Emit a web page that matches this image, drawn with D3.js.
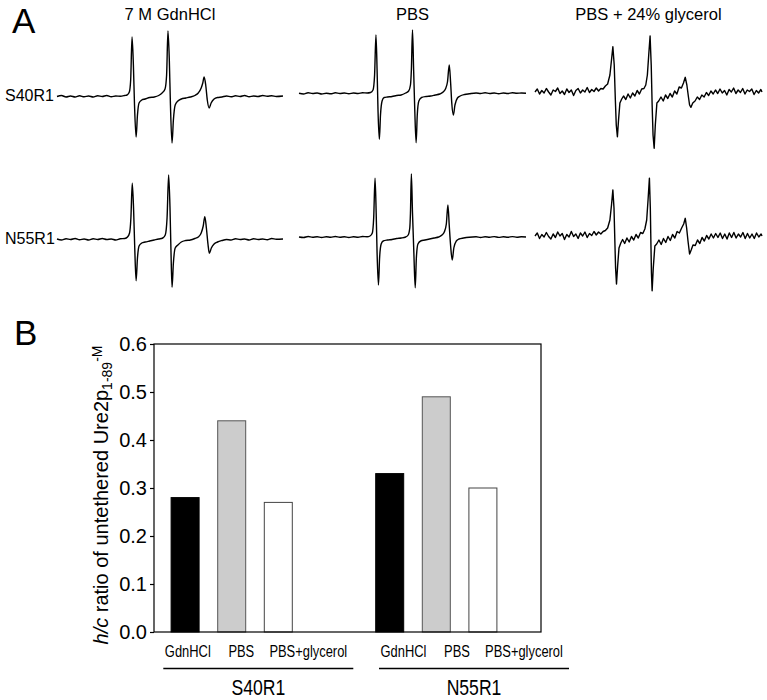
<!DOCTYPE html>
<html>
<head>
<meta charset="utf-8">
<script src="https://cdn.jsdelivr.net/npm/d3@7"></script>
<style>
  body { margin: 0; background: #fff; }
  svg { font-family: "Liberation Sans", Arial, sans-serif; }
</style>
</head>
<body>
<svg width="767" height="700"></svg>
<script>
// ---- panel A: EPR spectra, [field (G, 0-100 sweep), signal (a.u.)] ----
const rowNames = ["S40R1", "N55R1"];
const solventNames = ["7 M GdnHCl", "PBS", "PBS + 24% glycerol"];

const s40Gdn = [[0,-0.015],[2,-0.005],[4,-0.02],[6,-0.01],[8,-0.02],[10,-0.008],[12,-0.018],[14,-0.01],[16,-0.02],[18,-0.008],[20,-0.015],[22,-0.005],[24,-0.018],[26,-0.01],[28,-0.012],[30,-0.005],[31,0.0],[32,0.03],[32.6,0.15],[33.2,0.58],[33.8,0.3],[34.3,-0.1],[35.0,-0.42],[35.6,-0.2],[36.3,-0.08],[37.5,-0.05],[39,-0.04],[41,-0.025],[43,-0.02],[45,-0.005],[46.5,0.02],[47.8,0.06],[48.5,0.2],[49.1,0.64],[49.7,0.35],[50.2,-0.1],[50.9,-0.48],[51.5,-0.25],[52.3,-0.1],[53.5,-0.06],[55,-0.04],[57,-0.03],[59,-0.02],[61,-0.005],[62.5,0.02],[63.8,0.07],[64.5,0.12],[65.1,0.18],[65.8,0.1],[66.5,-0.05],[67.3,-0.13],[68.2,-0.08],[69.5,-0.04],[71,-0.025],[73,-0.02],[75,-0.01],[77,-0.018],[79,-0.008],[81,-0.015],[83,-0.005],[85,-0.018],[87,-0.01],[89,-0.015],[91,-0.005],[93,-0.012],[95,-0.008],[97,-0.015],[100,-0.01]];

const s40Pbs = [[0,0.017],[2,0.01],[4,0.022],[6,0.015],[8,0.02],[10,0.01],[12,0.018],[14,0.012],[16,0.022],[18,0.015],[20,0.02],[22,0.012],[24,0.02],[26,0.015],[28,0.022],[30,0.02],[31.5,0.025],[32.6,0.05],[33.3,0.2],[33.9,0.60],[34.4,0.25],[34.8,-0.15],[35.4,-0.443],[35.9,-0.2],[36.6,-0.06],[37.5,-0.025],[39,-0.02],[41,-0.015],[43,-0.005],[45,0.0],[47,0.02],[48.3,0.04],[49.1,0.1],[49.5,0.25],[50.0,0.65],[50.5,0.25],[51.0,-0.15],[51.6,-0.477],[52.1,-0.2],[52.8,-0.06],[54,-0.025],[56,-0.015],[58,-0.01],[60,0.0],[62,0.01],[63.5,0.03],[64.5,0.06],[65.4,0.13],[66.2,0.30],[66.8,0.12],[67.3,-0.08],[68.0,-0.20],[68.7,-0.1],[69.8,-0.03],[71,-0.01],[73,0.005],[75,0.012],[78,0.02],[80,0.015],[82,0.022],[84,0.015],[86,0.02],[88,0.012],[90,0.02],[92,0.015],[94,0.022],[96,0.018],[98,0.02],[100,0.018]];

const s40Gly = [[0,0.03],[1,0.06],[2,0.01],[3,0.045],[4,0.02],[5,0.065],[6,0.03],[7,0.0],[8,0.05],[9,0.035],[10,0.07],[11,0.015],[12,0.04],[13,0.005],[14,0.06],[15,0.025],[16,0.05],[17,-0.005],[18,0.045],[19,0.065],[20,0.02],[21,0.05],[22,0.03],[23,0.075],[24,0.025],[25,0.055],[26,0.035],[27,0.07],[28,0.04],[29,0.065],[30,0.06],[31,0.09],[32,0.11],[33,0.2],[33.7,0.35],[34.3,0.483],[34.9,0.3],[35.4,-0.05],[35.8,-0.3],[36.3,-0.417],[36.8,-0.25],[37.4,-0.08],[38.2,-0.04],[39,-0.01],[40,-0.045],[41,0.01],[42,-0.03],[43,0.02],[44,-0.01],[45,0.045],[46,0.01],[47,0.06],[48,0.065],[48.8,0.1],[49.5,0.2],[50.1,0.4],[50.7,0.59],[51.2,0.3],[51.6,-0.1],[52.0,-0.4],[52.5,-0.533],[53.0,-0.3],[53.7,-0.08],[54.5,-0.06],[55.5,-0.02],[56.5,-0.06],[57.5,0.0],[58.5,-0.035],[59.5,0.015],[60.5,-0.02],[61.5,0.04],[62.5,0.01],[63.5,0.08],[64.5,0.07],[65.4,0.12],[66.2,0.177],[66.9,0.1],[67.6,-0.02],[68.1,-0.1],[68.7,-0.123],[69.5,-0.08],[70.5,-0.06],[71.5,-0.02],[72.5,-0.045],[73.5,0.0],[74.5,-0.02],[75.5,0.025],[76.5,-0.005],[77.5,0.04],[78.5,0.01],[79.5,0.05],[80.5,0.015],[81.5,0.06],[82.5,0.02],[83.5,0.045],[84.5,0.0],[85.5,0.055],[86.5,0.03],[87.5,0.07],[88.5,0.015],[89.5,0.05],[90.5,0.025],[91.5,0.065],[92.5,0.01],[93.5,0.05],[94.5,0.035],[95.5,0.06],[96.5,0.005],[97.5,0.045],[98.5,0.02],[99.5,0.055],[100,0.03]];

const n55Gdn = [[0,-0.01],[2,-0.02],[4,-0.008],[6,-0.015],[8,-0.005],[10,-0.018],[12,-0.01],[14,-0.02],[16,-0.008],[18,-0.015],[20,-0.005],[22,-0.015],[24,-0.01],[26,-0.02],[28,-0.008],[30,-0.005],[31.2,0.01],[32.1,0.05],[32.7,0.2],[33.3,0.547],[33.9,0.28],[34.4,-0.1],[35.0,-0.427],[35.6,-0.2],[36.3,-0.08],[37.5,-0.05],[39,-0.04],[41,-0.03],[43,-0.02],[45,-0.01],[46.8,0.0],[47.9,0.03],[48.7,0.2],[49.4,0.63],[50.0,0.3],[50.4,-0.1],[50.9,-0.493],[51.5,-0.25],[52.3,-0.1],[53.5,-0.07],[55,-0.04],[57,-0.025],[59,-0.02],[61,-0.005],[62.5,0.01],[63.8,0.05],[64.7,0.12],[65.4,0.213],[66.1,0.1],[66.8,-0.06],[67.4,-0.153],[68.3,-0.1],[69.5,-0.06],[71,-0.04],[73,-0.025],[75,-0.015],[77,-0.02],[79,-0.008],[81,-0.015],[83,-0.01],[85,-0.02],[87,-0.008],[89,-0.015],[91,-0.01],[93,-0.018],[95,-0.005],[97,-0.012],[100,-0.01]];

const n55Pbs = [[0,0.01],[2,0.005],[4,0.015],[6,0.008],[8,0.012],[10,0.005],[12,0.012],[14,0.008],[16,0.015],[18,0.008],[20,0.012],[22,0.005],[24,0.012],[26,0.008],[28,0.015],[30,0.012],[31.3,0.02],[32.3,0.05],[32.9,0.2],[33.5,0.597],[34.0,0.25],[34.4,-0.15],[35.0,-0.47],[35.5,-0.2],[36.2,-0.06],[37.1,-0.03],[39,-0.02],[41,-0.015],[43,-0.005],[45,0.0],[47,0.01],[48.1,0.03],[48.8,0.1],[49.1,0.25],[49.5,0.64],[50.0,0.25],[50.6,-0.15],[51.2,-0.497],[51.7,-0.2],[52.4,-0.06],[53.6,-0.03],[55.5,-0.02],[57.5,-0.01],[59.5,0.0],[61.5,0.01],[63,0.03],[64,0.06],[64.9,0.14],[65.6,0.33],[66.2,0.12],[66.8,-0.08],[67.5,-0.22],[68.2,-0.1],[69.3,-0.03],[70.5,-0.01],[72.5,0.0],[75,0.008],[78,0.012],[80,0.005],[82,0.012],[84,0.008],[86,0.014],[88,0.006],[90,0.012],[92,0.008],[94,0.014],[96,0.008],[98,0.012],[100,0.01]];

const n55Gly = [[0,0.02],[1,0.05],[2,-0.005],[3,0.035],[4,0.01],[5,0.055],[6,0.015],[7,-0.01],[8,0.04],[9,0.005],[10,0.06],[11,0.02],[12,0.045],[13,-0.015],[14,0.035],[15,0.01],[16,0.065],[17,0.015],[18,0.04],[19,-0.005],[20,0.05],[21,0.02],[22,0.06],[23,0.005],[24,0.045],[25,0.025],[26,0.065],[27,0.03],[28,0.06],[29,0.04],[30,0.065],[31,0.075],[32,0.1],[33,0.18],[33.7,0.33],[34.3,0.48],[34.8,0.3],[35.2,-0.05],[35.5,-0.3],[35.9,-0.46],[36.4,-0.28],[37.0,-0.1],[37.8,-0.05],[38.6,-0.015],[39.5,-0.055],[40.5,0.0],[41.5,-0.04],[42.5,0.015],[43.5,-0.02],[44.5,0.035],[45.5,0.0],[46.5,0.055],[47.5,0.045],[48.4,0.09],[49.2,0.18],[49.8,0.38],[50.4,0.597],[50.8,0.3],[51.1,-0.1],[51.3,-0.35],[51.6,-0.527],[52.1,-0.3],[52.8,-0.08],[53.6,-0.06],[54.6,-0.02],[55.6,-0.065],[56.6,-0.005],[57.6,-0.045],[58.6,0.015],[59.6,-0.025],[60.6,0.035],[61.6,0.0],[62.6,0.065],[63.6,0.05],[64.6,0.1],[65.5,0.14],[66.2,0.197],[66.8,0.1],[67.4,-0.03],[68.1,-0.16],[68.8,-0.12],[69.6,-0.07],[70.6,-0.075],[71.6,-0.02],[72.6,-0.055],[73.6,0.005],[74.6,-0.03],[75.6,0.025],[76.6,-0.01],[77.6,0.04],[78.6,0.0],[79.6,0.045],[80.6,0.005],[81.6,0.05],[82.6,-0.005],[83.6,0.04],[84.6,-0.01],[85.6,0.05],[86.6,0.005],[87.6,0.055],[88.6,0.0],[89.6,0.04],[90.6,0.01],[91.6,0.055],[92.6,-0.005],[93.6,0.045],[94.6,0.0],[95.6,0.04],[96.6,-0.005],[97.6,0.05],[98.6,0.01],[99.6,0.04],[100,0.02]];

// ---- panel B: h/c ratios ----
const mutants = ["S40R1", "N55R1"];
const conditions = ["GdnHCl", "PBS", "PBS+glycerol"];
const s40Ratio = [0.28, 0.44, 0.27];
const n55Ratio = [0.33, 0.49, 0.30];
const yTicks = [0, 0.1, 0.2, 0.3, 0.4, 0.5, 0.6];

const svg = d3.select("svg");

// ================= panel A =================
const colRange = [[57, 283], [299, 526], [535, 762]];
const rowBase = [95, 238];
const fieldX = colRange.map(r => d3.scaleLinear().domain([0, 100]).range(r));
const signalY = rowBase.map(b => d3.scaleLinear().domain([-1, 1]).range([b + 100, b - 100]));

const traces = [
  { row: 0, col: 0, data: s40Gdn }, { row: 0, col: 1, data: s40Pbs }, { row: 0, col: 2, data: s40Gly },
  { row: 1, col: 0, data: n55Gdn }, { row: 1, col: 1, data: n55Pbs }, { row: 1, col: 2, data: n55Gly }
];

svg.append("g")
  .selectAll("path")
  .data(traces)
  .enter().append("path")
  .attr("d", t => d3.line()
      .x(d => fieldX[t.col](d[0]))
      .y(d => signalY[t.row](d[1]))
      .curve(t.col === 2 ? d3.curveLinear : d3.curveMonotoneX)(t.data))
  .attr("fill", "none")
  .attr("stroke", "#000")
  .attr("stroke-width", 1.4)
  .attr("stroke-linejoin", "round");

svg.append("g")
  .selectAll("text")
  .data(solventNames)
  .enter().append("text")
  .attr("x", (d, i) => fieldX[i](50))
  .attr("y", 20)
  .attr("text-anchor", "middle")
  .attr("font-size", 16.5)
  .text(d => d);

svg.append("g")
  .selectAll("text")
  .data(rowNames)
  .enter().append("text")
  .attr("x", 5)
  .attr("y", (d, i) => rowBase[i] + 5.5)
  .attr("font-size", 16)
  .text(d => d);

svg.append("text").attr("x", 12).attr("y", 33).attr("font-size", 35).text("A");
svg.append("text").attr("x", 14).attr("y", 345).attr("font-size", 35).text("B");

// ================= panel B =================
const plot = { left: 154, right: 541, top: 344, bottom: 632 };
const y = d3.scaleLinear().domain([0, 0.6]).range([plot.bottom, plot.top]);
const xGroup = d3.scalePoint().domain(mutants).range([231.7, 436.3]);
const xCond = d3.scalePoint().domain(conditions).range([-46.6, 46.6]);
const barW = 28;
const fills = ["#000000", "#cccccc", "#ffffff"];
const strokes = ["#000000", "#555555", "#444444"];

const bars = [];
mutants.forEach((m, i) => {
  const vals = i === 0 ? s40Ratio : n55Ratio;
  conditions.forEach((c, j) => bars.push({ m, c, j, v: vals[j] }));
});

svg.append("g")
  .selectAll("rect")
  .data(bars)
  .enter().append("rect")
  .attr("x", d => xGroup(d.m) + xCond(d.c) - barW / 2)
  .attr("y", d => y(d.v))
  .attr("width", barW)
  .attr("height", d => y(0) - y(d.v))
  .attr("fill", d => fills[d.j])
  .attr("stroke", d => strokes[d.j])
  .attr("stroke-width", 1);

svg.append("rect")
  .attr("x", plot.left).attr("y", plot.top)
  .attr("width", plot.right - plot.left)
  .attr("height", plot.bottom - plot.top)
  .attr("fill", "none")
  .attr("stroke", "#000")
  .attr("stroke-width", 1.2);

const yAxis = svg.append("g")
  .attr("transform", `translate(${plot.left},0)`)
  .call(d3.axisLeft(y).tickValues(yTicks).tickFormat(d3.format(".1f")).tickSize(4).tickSizeOuter(0).tickPadding(3));
yAxis.select(".domain").remove();
yAxis.selectAll("line").attr("stroke", "#000").attr("stroke-width", 1.2);
yAxis.selectAll("text")
  .attr("font-size", 20)
  .attr("font-family", "\"Liberation Sans\", Arial, sans-serif")
  .attr("fill", "#000");

const yTitle = svg.append("text")
  .attr("transform", "translate(108,495) rotate(-90)")
  .attr("text-anchor", "middle")
  .attr("font-size", 20);
yTitle.append("tspan").attr("font-style", "italic").text("h/c");
yTitle.append("tspan").text(" ratio of untethered Ure2p");
yTitle.append("tspan").attr("font-size", 14).attr("dy", 3.5).text("1-89");
yTitle.append("tspan").attr("font-size", 14).attr("dy", -10).text("-M");

// category labels and group underlines
const labelGroup = d3.scalePoint().domain(mutants).range([258.3, 474]);
const labelOffset = d3.scaleOrdinal().domain(conditions).range([-70.5, -17, 50]);

mutants.forEach(m => {
  const cx = labelGroup(m);
  svg.append("g")
    .selectAll("text")
    .data(conditions)
    .enter().append("text")
    .attr("transform", c => `translate(${cx + labelOffset(c)},657) scale(0.76,1)`)
    .attr("text-anchor", "middle")
    .attr("font-size", 17)
    .text(c => c);

  svg.append("line")
    .attr("x1", cx - 95).attr("x2", cx + 95)
    .attr("y1", 668.5).attr("y2", 668.5)
    .attr("stroke", "#000")
    .attr("stroke-width", 1.5);

  svg.append("text")
    .attr("transform", `translate(${cx},695) scale(0.8,1)`)
    .attr("text-anchor", "middle")
    .attr("font-size", 22)
    .text(m);
});
</script>
</body>
</html>
